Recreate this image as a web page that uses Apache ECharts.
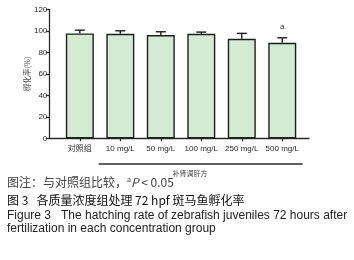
<!DOCTYPE html>
<html>
<head>
<meta charset="utf-8">
<script src="https://cdn.jsdelivr.net/npm/echarts@6/dist/echarts.min.js"></script>
<style>
html,body{margin:0;padding:0;background:#fff;}
#wrap{position:relative;width:354px;height:260px;overflow:hidden;}
#chart{position:absolute;left:0;top:0;width:354px;height:260px;}
.cap{position:absolute;left:7px;white-space:nowrap;font-family:"Liberation Sans","Noto Sans CJK SC",sans-serif;font-size:12px;line-height:14px;color:#222;}
sup{line-height:0;}
</style>
</head>
<body>
<div id="wrap">
<div id="chart"></div>
<div class="cap" style="top:175px;color:#444;font-family:'Noto Sans CJK SC',sans-serif;">图注：与对照组比较，<sup style="font-size:7px;">a</sup><i>P</i> &lt; 0.05</div>
<div class="cap" style="top:192.5px;color:#111;font-family:'Noto Sans CJK SC',sans-serif;">图 3&nbsp;&nbsp;&nbsp;各质量浓度组处理 72 hpf 斑马鱼孵化率</div>
<div class="cap" style="top:207.5px;">Figure 3&nbsp;&nbsp;&nbsp;The hatching rate of zebrafish juveniles 72 hours after</div>
<div class="cap" style="top:221px;">fertilization in each concentration group</div>
</div>
<script>
const categories = ['对照组', '10 mg/L', '50 mg/L', '100 mg/L', '250 mg/L', '500 mg/L'];
const means = [97.6, 97.2, 96.0, 97.2, 92.6, 88.8];
const sds = [3.0, 2.8, 3.1, 1.6, 5.0, 4.7];
const marks = ['', '', '', '', '', 'a'];
const yTicks = [0, 20, 40, 60, 80, 100, 120];
const yTitle = '孵化率(%)';
const groupTitle = '补肾调肝方';

const chart = echarts.init(document.getElementById('chart'), null, {renderer: 'canvas'});
const gTop = 9.3, gBottom = 121.7;
const axisColor = '#2a2a2a';
const labelFont = {fontFamily: 'Liberation Sans, Noto Sans CJK SC, sans-serif', fontSize: 8, color: '#2a2a2a'};

chart.setOption({
  animation: false,
  grid: [
    {left: 59.6, right: 51.5, top: gTop, bottom: gBottom},
    {left: 49.3, right: 45, top: gTop, bottom: gBottom}
  ],
  xAxis: [
    {
      type: 'category', gridIndex: 0, data: categories,
      axisLine: {show: false},
      axisTick: {show: true, alignWithLabel: true, length: 3, lineStyle: {color: axisColor, width: 1.3}},
      axisLabel: Object.assign({margin: 6, interval: 0}, labelFont),
      splitLine: {show: false}
    },
    {
      type: 'value', gridIndex: 1, min: 0, max: 1,
      axisLine: {show: true, lineStyle: {color: axisColor, width: 1.3}},
      axisTick: {show: false}, axisLabel: {show: false}, splitLine: {show: false}
    }
  ],
  yAxis: [
    {
      type: 'value', gridIndex: 0, min: yTicks[0], max: yTicks[yTicks.length - 1], interval: 20,
      show: false, splitLine: {show: false}
    },
    {
      type: 'value', gridIndex: 1, min: yTicks[0], max: yTicks[yTicks.length - 1], interval: 20,
      name: yTitle, nameLocation: 'middle', nameGap: 18, nameRotate: 90, nameMoveOverlap: false,
      nameTextStyle: {fontFamily: 'Noto Sans CJK SC, sans-serif', fontSize: 7.5, color: '#555'},
      axisLine: {show: true, lineStyle: {color: axisColor, width: 1.3}},
      axisTick: {show: true, length: 3.5, lineStyle: {color: axisColor, width: 1.3}},
      axisLabel: Object.assign({margin: 2}, labelFont),
      splitLine: {show: false}
    }
  ],
  series: [
    {
      type: 'bar', xAxisIndex: 0, yAxisIndex: 0, data: means, barWidth: 28,
      itemStyle: {color: '#d5ead2', borderColor: '#1e1e1e', borderWidth: 1.4},
      z: 2
    },
    {
      type: 'custom', xAxisIndex: 0, yAxisIndex: 0,
      data: means.map((m, i) => [i, m, m + sds[i], marks[i]]),
      renderItem: function (params, api) {
        const base = api.coord([api.value(0), api.value(1)]);
        const topP = api.coord([api.value(0), api.value(2)]);
        const hw = 5;
        const st = {stroke: '#1e1e1e', lineWidth: 1.4};
        const children = [
          {type: 'line', shape: {x1: base[0], y1: base[1], x2: topP[0], y2: topP[1]}, style: st},
          {type: 'line', shape: {x1: topP[0] - hw, y1: topP[1], x2: topP[0] + hw, y2: topP[1]}, style: st}
        ];
        const m = marks[params.dataIndex];
        if (m) {
          children.push({type: 'text', style: {text: m, x: topP[0], y: topP[1] - 11, align: 'center', verticalAlign: 'middle', fontSize: 8, fontFamily: 'Liberation Sans, sans-serif', fill: '#333'}});
        }
        return {type: 'group', children: children};
      },
      z: 3
    }
  ],
  graphic: [
    {type: 'line', shape: {x1: 98.7, y1: 164, x2: 302.7, y2: 164}, style: {stroke: '#2a2a2a', lineWidth: 1.3}},
    {type: 'text', x: 190, y: 173.5, style: {text: groupTitle, align: 'center', verticalAlign: 'middle', fontSize: 7, fontFamily: 'Noto Sans CJK SC, sans-serif', fill: '#444'}}
  ]
});
</script>
</body>
</html>
